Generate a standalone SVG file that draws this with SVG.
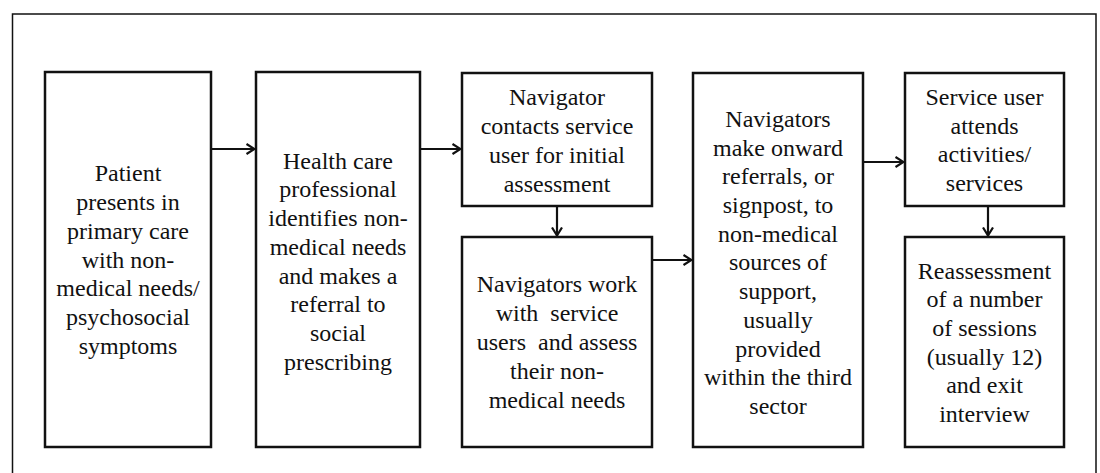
<svg xmlns="http://www.w3.org/2000/svg" width="1100" height="473" viewBox="0 0 1100 473">
<style>
.box{fill:#fff;stroke:#111;stroke-width:2.5}
.c{stroke:#111;stroke-width:2.2;fill:none}
</style>
<defs>
<marker id="ah" viewBox="0 0 10 12" refX="9.5" refY="6" markerWidth="10" markerHeight="12" markerUnits="userSpaceOnUse" orient="auto">
<path d="M1,1 L9,6 L1,11" fill="none" stroke="#111" stroke-width="2.2"/>
</marker>
</defs>
<rect x="0" y="0" width="1100" height="473" fill="#fff"/>
<path d="M12.5,480 V14 H1096 V480" fill="none" stroke="#111" stroke-width="1.5"/>

<g id="n1">
<rect class="box" x="45" y="72" width="166" height="375"/>
<text font-family="Liberation Serif, Times New Roman, serif" font-size="24" fill="#111" text-anchor="middle"><tspan x="128" y="181">Patient</tspan><tspan x="128" y="210">presents in</tspan><tspan x="128" y="239">primary care</tspan><tspan x="128" y="268">with non-</tspan><tspan x="128" y="296">medical needs/</tspan><tspan x="128" y="325">psychosocial</tspan><tspan x="128" y="354">symptoms</tspan></text>
</g>
<g id="n2">
<rect class="box" x="256" y="72" width="164" height="375"/>
<text font-family="Liberation Serif, Times New Roman, serif" font-size="24" fill="#111" text-anchor="middle"><tspan x="338" y="169">Health care</tspan><tspan x="338" y="197">professional</tspan><tspan x="338" y="226">identifies non-</tspan><tspan x="338" y="255">medical needs</tspan><tspan x="338" y="284">and makes a</tspan><tspan x="338" y="312">referral to</tspan><tspan x="338" y="341">social</tspan><tspan x="338" y="370">prescribing</tspan></text>
</g>
<g id="n3">
<rect class="box" x="462" y="73" width="190" height="133"/>
<text font-family="Liberation Serif, Times New Roman, serif" font-size="24" fill="#111" text-anchor="middle"><tspan x="557" y="105">Navigator</tspan><tspan x="557" y="134">contacts service</tspan><tspan x="557" y="163">user for initial</tspan><tspan x="557" y="192">assessment</tspan></text>
</g>
<g id="n4">
<rect class="box" x="462" y="237" width="190" height="210"/>
<text font-family="Liberation Serif, Times New Roman, serif" font-size="24" fill="#111" text-anchor="middle" xml:space="preserve"><tspan x="557" y="292">Navigators work</tspan><tspan x="557" y="321">with  service</tspan><tspan x="557" y="350">users  and assess</tspan><tspan x="557" y="379">their non-</tspan><tspan x="557" y="408">medical needs</tspan></text>
</g>
<g id="n5">
<rect class="box" x="693" y="73" width="170" height="374"/>
<text font-family="Liberation Serif, Times New Roman, serif" font-size="24" fill="#111" text-anchor="middle"><tspan x="778" y="127">Navigators</tspan><tspan x="778" y="156">make onward</tspan><tspan x="778" y="184">referrals, or</tspan><tspan x="778" y="213">signpost, to</tspan><tspan x="778" y="242">non-medical</tspan><tspan x="778" y="270">sources of</tspan><tspan x="778" y="299">support,</tspan><tspan x="778" y="328">usually</tspan><tspan x="778" y="357">provided</tspan><tspan x="778" y="385">within the third</tspan><tspan x="778" y="414">sector</tspan></text>
</g>
<g id="n6">
<rect class="box" x="905" y="73" width="159" height="133"/>
<text font-family="Liberation Serif, Times New Roman, serif" font-size="24" fill="#111" text-anchor="middle"><tspan x="984.5" y="105">Service user</tspan><tspan x="984.5" y="134">attends</tspan><tspan x="984.5" y="162">activities/</tspan><tspan x="984.5" y="191">services</tspan></text>
</g>
<g id="n7">
<rect class="box" x="905" y="237" width="159" height="210"/>
<text font-family="Liberation Serif, Times New Roman, serif" font-size="24" fill="#111" text-anchor="middle"><tspan x="984.5" y="279">Reassessment</tspan><tspan x="984.5" y="307">of a number</tspan><tspan x="984.5" y="336">of sessions</tspan><tspan x="984.5" y="365">(usually 12)</tspan><tspan x="984.5" y="393">and exit</tspan><tspan x="984.5" y="422">interview</tspan></text>
</g>

<g id="connectors">
<line class="c" x1="211" y1="149" x2="255" y2="149" marker-end="url(#ah)"/>
<line class="c" x1="420" y1="149" x2="461" y2="149" marker-end="url(#ah)"/>
<line class="c" x1="557" y1="206" x2="557" y2="236" marker-end="url(#ah)"/>
<line class="c" x1="652" y1="260" x2="692" y2="260" marker-end="url(#ah)"/>
<line class="c" x1="863" y1="162" x2="904" y2="162" marker-end="url(#ah)"/>
<line class="c" x1="988" y1="206" x2="988" y2="236" marker-end="url(#ah)"/>
</g>
</svg>
